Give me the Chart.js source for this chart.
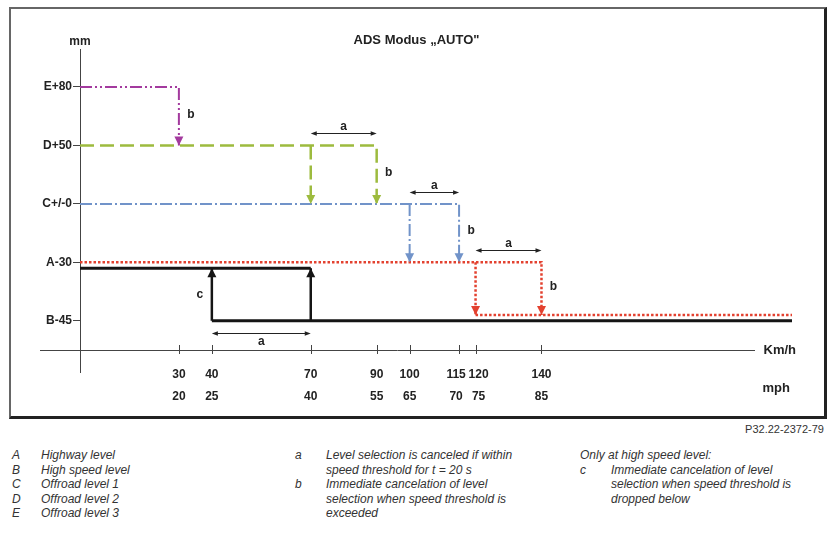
<!DOCTYPE html>
<html>
<head>
<meta charset="utf-8">
<script src="https://cdn.jsdelivr.net/npm/chart.js@4.4.1/dist/chart.umd.min.js"></script>
<style>
  body { margin: 0; background: #fff; width: 836px; height: 541px; position: relative; overflow: hidden;
         font-family: "Liberation Sans", Arial, sans-serif; }
  #box { position: absolute; left: 9px; top: 7px; width: 813px; height: 407px;
         border-style: solid; border-color: #666 #222 #222 #666; border-width: 2px 3px 3px 2px; }
  canvas { display: block; }
  .ref { position: absolute; right: 12px; top: 423px; font-size: 11px; color: #333; }
  .col { position: absolute; top: 448px; font-size: 12px; font-style: italic; color: #333; line-height: 14.5px; }
  .row { position: relative; }
  .row i { position: absolute; left: 0; }
</style>
</head>
<body>
<div id="box"><canvas id="chart" width="813" height="407"></canvas></div>
<div class="ref">P32.22-2372-79</div>
<div class="col" style="left:12px">
  <div class="row" style="padding-left:29px"><i>A</i>Highway level</div>
  <div class="row" style="padding-left:29px"><i>B</i>High speed level</div>
  <div class="row" style="padding-left:29px"><i>C</i>Offroad level 1</div>
  <div class="row" style="padding-left:29px"><i>D</i>Offroad level 2</div>
  <div class="row" style="padding-left:29px"><i>E</i>Offroad level 3</div>
</div>
<div class="col" style="left:295px">
  <div class="row" style="padding-left:31px"><i>a</i>Level selection is canceled if within<br>speed threshold for t = 20 s</div>
  <div class="row" style="padding-left:31px"><i>b</i>Immediate cancelation of level<br>selection when speed threshold is<br>exceeded</div>
</div>
<div class="col" style="left:580px">
  <div class="row">Only at high speed level:</div>
  <div class="row" style="padding-left:31px"><i>c</i>Immediate cancelation of level<br>selection when speed threshold is<br>dropped below</div>
</div>
<script>
// y axis: level index, bottom to top
const levelLabels = ['B-45', 'A-30', 'C+/-0', 'D+50', 'E+80'];
// x axis ticks
const kmhTicks = [30, 40, 70, 90, 100, 115, 120, 140];
const mphTicks = [20, 25, 40, 55, 65, 70, 75, 85];
const speedMax = 216;

// level paths as [km/h, level]
const offroad3 = [[0, 4], [30, 4], [30, 3]];
const offroad2 = [[0, 3], [90, 3], [90, 2]];
const offroad2Early = [[70, 3], [70, 2]];
const offroad1 = [[0, 2], [115, 2], [115, 1]];
const offroad1Early = [[100, 2], [100, 1]];
const highway = [[0, 1], [140, 1], [140, 0.1]];
const highwayEarly = [[120, 1], [120, 0.1]];
const highwayLow = [[120, 0.1], [216, 0.1]];
const highSpeedTop = [[0, 0.9], [70, 0.9]];
const highSpeedUp40 = [[40, 0], [40, 0.9]];
const highSpeedUp70 = [[70, 0], [70, 0.9]];
const highSpeed = [[40, 0], [216, 0]];

// time windows "a": [from km/h, to km/h, level]
const windows = [[70, 90, 3], [100, 115, 2], [120, 140, 1], [40, 70, 0]];

const PURPLE = '#a33a9e';
const GREEN = '#9dbb3e';
const BLUE = '#7193c9';
const RED = '#e3412f';
const BLACK = '#151515';
const FONT = '"Liberation Sans", Arial, sans-serif';

Chart.defaults.font.family = FONT;

function line(path, color, width, dash, arrow) {
  return {
    data: path.map(([x, y]) => ({ x, y })),
    borderColor: color,
    borderWidth: width,
    borderDash: dash,
    borderCapStyle: 'butt',
    pointRadius: 0,
    fill: false,
    tension: 0,
    arrow: arrow
  };
}

const datasets = [
  line(highSpeedTop, BLACK, 3, [], null),
  line(highSpeed, BLACK, 3, [], null),
  line(highSpeedUp40, BLACK, 2.5, [], 'end'),
  line(highSpeedUp70, BLACK, 2.5, [], 'end'),
  line(highway, RED, 2.5, [2.5, 2], 'end'),
  line(highwayEarly, RED, 2.5, [2.5, 2], 'end'),
  line(highwayLow, RED, 2.5, [2.5, 2], null),
  line(offroad1, BLUE, 2, [12, 3, 2, 3], 'end'),
  line(offroad1Early, BLUE, 2, [12, 3, 2, 3], 'end'),
  line(offroad2, GREEN, 2.5, [14, 6], 'end'),
  line(offroad2Early, GREEN, 2.5, [14, 6], 'end'),
  line(offroad3, PURPLE, 2, [12, 3, 2, 3, 2, 3], 'end')
];

function drawHead(ctx, tip, from, len, half, color) {
  const ang = Math.atan2(tip.y - from.y, tip.x - from.x);
  ctx.save();
  ctx.translate(tip.x, tip.y);
  ctx.rotate(ang);
  ctx.beginPath();
  ctx.moveTo(0, 0);
  ctx.lineTo(-len, -half);
  ctx.lineTo(-len, half);
  ctx.closePath();
  ctx.fillStyle = color;
  ctx.fill();
  ctx.restore();
}

// tick labels that sit very close to a neighbour get nudged apart with an en space
function speedLabel(v) {
  const i = kmhTicks.indexOf(v);
  const padL = i > 0 && v - kmhTicks[i - 1] < 8 ? '\u2002' : '';
  const padR = i < kmhTicks.length - 1 && kmhTicks[i + 1] - v < 8 ? '\u2002' : '';
  return [padL + v + padR, padL + mphTicks[i] + padR];
}

const arrowHeads = {
  id: 'arrowHeads',
  afterDatasetsDraw(chart) {
    const ctx = chart.ctx;
    chart.data.datasets.forEach((ds, i) => {
      if (!ds.arrow) return;
      const pts = chart.getDatasetMeta(i).data;
      const n = pts.length;
      drawHead(ctx, pts[n - 1], pts[n - 2], 9, 4.5, ds.borderColor);
    });
  }
};

const diagram = {
  id: 'diagram',
  beforeDatasetsDraw(chart) {
    const { ctx, chartArea } = chart;
    const xs = chart.scales.x;
    const x0 = xs.getPixelForValue(0);
    const yb = chartArea.bottom;
    ctx.save();
    ctx.strokeStyle = '#444';
    ctx.lineWidth = 1;
    ctx.beginPath();
    ctx.moveTo(chartArea.left - 40, yb + 0.5);
    ctx.lineTo(chartArea.right - 37, yb + 0.5);
    ctx.moveTo(Math.round(x0) + 0.5, chartArea.top);
    ctx.lineTo(Math.round(x0) + 0.5, yb + 23);
    kmhTicks.forEach(v => {
      const px = Math.round(xs.getPixelForValue(v)) + 0.5;
      ctx.moveTo(px, yb - 5);
      ctx.lineTo(px, yb + 4);
    });
    ctx.stroke();
    ctx.restore();
  },
  afterDraw(chart) {
    const { ctx, chartArea } = chart;
    const xs = chart.scales.x, ys = chart.scales.y;
    ctx.save();
    ctx.fillStyle = '#222';
    ctx.font = 'bold 12px ' + FONT;
    ctx.textBaseline = 'middle';
    ctx.textAlign = 'center';
    ctx.fillText('mm', xs.getPixelForValue(0), chartArea.top - 7);
    ctx.textAlign = 'right';
    ctx.font = 'bold 13px ' + FONT;
    ctx.fillText('Km/h', chartArea.right + 4, chartArea.bottom);
    ctx.fillText('mph', chartArea.right - 2, chartArea.bottom + 38);
    ctx.font = 'bold 12px ' + FONT;

    // "a" windows
    windows.forEach(([a, b, lvl]) => {
      const below = lvl === 0;
      const y = Math.round(ys.getPixelForValue(lvl) + (below ? 12 : -12)) + 0.5;
      const xa = xs.getPixelForValue(a), xb = xs.getPixelForValue(b);
      ctx.strokeStyle = '#222';
      ctx.lineWidth = 1;
      ctx.beginPath();
      ctx.moveTo(xa + 2, y);
      ctx.lineTo(xb - 2, y);
      ctx.stroke();
      drawHead(ctx, { x: xa, y }, { x: xb, y }, 6, 2.2, '#222');
      drawHead(ctx, { x: xb, y }, { x: xa, y }, 6, 2.2, '#222');
      ctx.textAlign = 'center';
      ctx.fillStyle = '#222';
      ctx.fillText('a', (xa + xb) / 2, y + (below ? 8 : -7));
    });

    // "b" next to each level's cancel drop
    ctx.textAlign = 'center';
    [offroad3, offroad2, offroad1, highway].forEach(p => {
      const n = p.length;
      const x = xs.getPixelForValue(p[n - 1][0]);
      const y = (ys.getPixelForValue(p[n - 1][1]) + ys.getPixelForValue(p[n - 2][1])) / 2;
      ctx.fillText('b', x + 12, y - 2);
    });
    // "c" next to the high speed rise
    {
      const x = xs.getPixelForValue(highSpeedUp40[0][0]);
      const y = (ys.getPixelForValue(highSpeedUp40[0][1]) + ys.getPixelForValue(highSpeedUp40[1][1])) / 2;
      ctx.fillText('c', x - 12, y);
    }
    ctx.restore();
  }
};

new Chart(document.getElementById('chart'), {
  type: 'line',
  data: { datasets },
  options: {
    responsive: false,
    animation: false,
    devicePixelRatio: 1,
    layout: { padding: { left: 30, right: 32, top: 0, bottom: 6 } },
    plugins: {
      legend: { display: false },
      tooltip: { enabled: false },
      title: {
        display: true,
        text: 'ADS Modus \u201EAUTO"',
        color: '#222',
        font: { size: 13, weight: 'bold' },
        padding: { top: 24, bottom: 0.4 }
      }
    },
    scales: {
      x: {
        type: 'linear',
        min: 0,
        max: speedMax,
        afterFit: s => { s.height = 60; },
        afterBuildTicks: s => { s.ticks = kmhTicks.map(v => ({ value: v })); },
        grid: { display: false },
        border: { display: false },
        ticks: {
          autoSkip: false,
          maxRotation: 0,
          padding: 6,
          color: '#222',
          font: { size: 12, weight: 'bold', lineHeight: 22 / 12 },
          callback: v => speedLabel(v)
        }
      },
      y: {
        type: 'linear',
        min: -0.5,
        max: 4.65,
        afterFit: s => { s.width = 39; },
        afterBuildTicks: s => { s.ticks = levelLabels.map((_, i) => ({ value: i })); },
        grid: { drawOnChartArea: false, drawTicks: true, tickLength: 7, color: '#444' },
        border: { display: false },
        ticks: {
          padding: 1,
          color: '#222',
          font: { size: 12, weight: 'bold' },
          callback: v => levelLabels[v]
        }
      }
    }
  },
  plugins: [arrowHeads, diagram]
});
</script>
</body>
</html>
